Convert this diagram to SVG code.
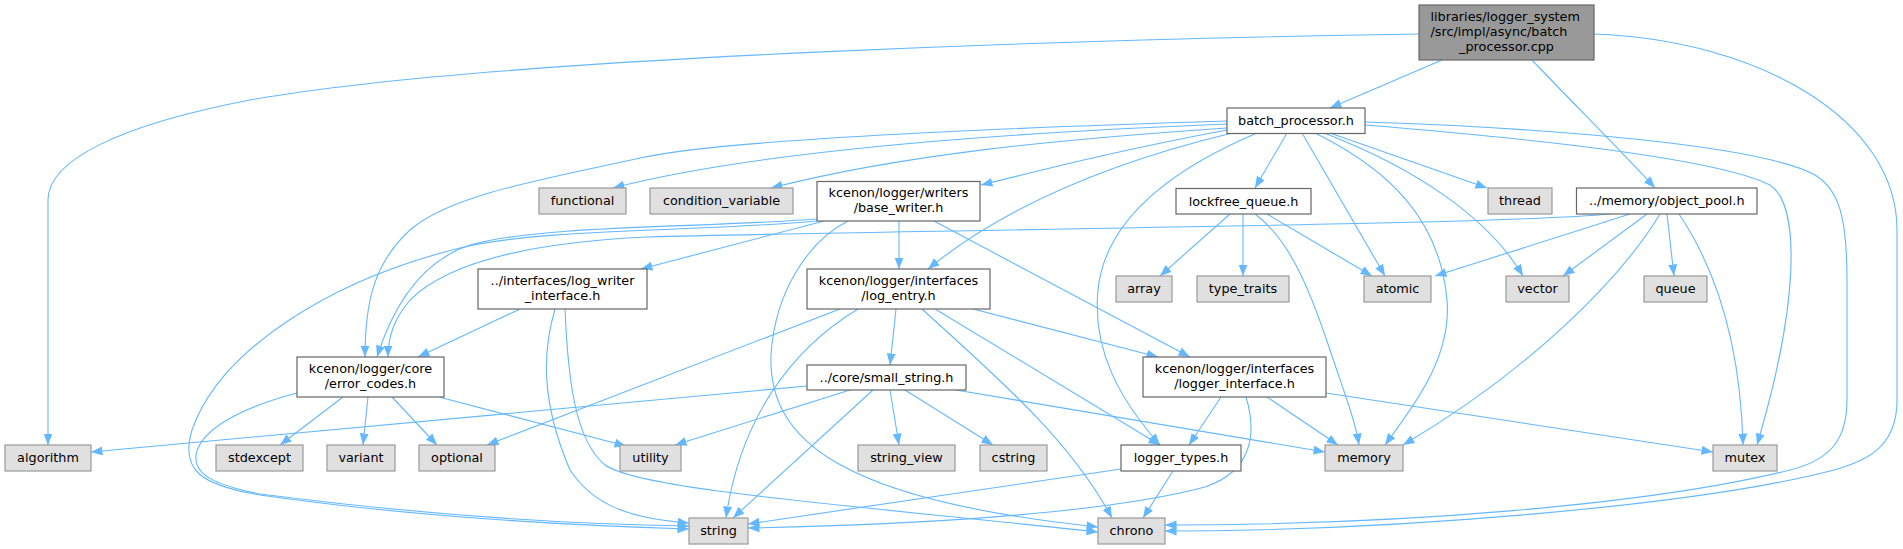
<svg xmlns="http://www.w3.org/2000/svg" width="1903" height="549" viewBox="0 0 1903 549">
<style>
.e{fill:none;stroke:#63b8ff;stroke-width:1.1;marker-end:url(#ah)}
.n rect{stroke-width:1.2}
.w rect{fill:#ffffff;stroke:#666666}
.g rect{fill:#e0e0e0;stroke:#999999}
.r rect{fill:#999999;stroke:#666666}
text{font-family:"DejaVu Sans",sans-serif;font-size:12.8px;fill:#000000;text-anchor:middle}
text.s{text-anchor:start}
</style>
<defs>
<marker id="ah" markerUnits="userSpaceOnUse" markerWidth="12" markerHeight="10" refX="11.5" refY="4.5" orient="auto">
<path d="M0,0 L11.5,4.5 L0,9 z" fill="#63b8ff"/>
</marker>
</defs>
<rect width="1903" height="549" fill="#ffffff"/>
<g id="edges">
<path class="e" d="M1442,60 L1330,108"/>
<path class="e" d="M1532,60 C1570,100 1625,155 1655,188"/>
<path class="e" d="M1419,34 C1150,38 500,55 250,100 C120,125 48,160 48,200 L48,445"/>
<path class="e" d="M1594,34 C1760,40 1897,120 1897,230 L1897,400 C1897,445 1870,460 1834,470 C1700,505 1400,531 1165,531"/>
<path class="e" d="M1365,122 C1550,128 1760,145 1815,175 C1840,190 1847,220 1847,280 L1847,400 C1847,440 1830,460 1790,470 C1650,505 1400,525 1165,525"/>
<path class="e" d="M1227,124 C1000,133 760,150 613,188"/>
<path class="e" d="M1227,128 C1050,140 900,155 771,188"/>
<path class="e" d="M1227,130 C1120,150 1050,168 981,185"/>
<path class="e" d="M1227,121 C1000,128 720,140 640,158 C540,180 450,195 410,230 C375,262 365,300 365,357"/>
<path class="e" d="M1232,133 C1100,165 1000,210 928,269"/>
<path class="e" d="M1287,133 L1255,188"/>
<path class="e" d="M1257,133 C1170,170 1105,220 1098,290 C1092,350 1120,400 1160,445"/>
<path class="e" d="M1302,133 L1385,276"/>
<path class="e" d="M1315,133 C1390,170 1440,220 1447,300 C1452,360 1410,410 1385,445"/>
<path class="e" d="M1324,133 C1420,170 1490,220 1523,276"/>
<path class="e" d="M1330,133 L1487,188"/>
<path class="e" d="M1365,125 C1550,140 1720,160 1770,185 C1800,205 1800,300 1757,445"/>
<path class="e" d="M1230,214 L1160,276"/>
<path class="e" d="M1243,214 L1243,276"/>
<path class="e" d="M1267,214 L1372,276"/>
<path class="e" d="M1255,214 C1290,240 1310,290 1330,350 C1345,395 1355,420 1359,445"/>
<path class="e" d="M1610,214 C1500,225 900,230 647,237 C540,242 450,260 410,300 C395,318 388,335 388,357"/>
<path class="e" d="M1630,214 L1435,276"/>
<path class="e" d="M1647,214 L1563,276"/>
<path class="e" d="M1660,214 C1620,280 1530,370 1403,445"/>
<path class="e" d="M1667,214 L1674,276"/>
<path class="e" d="M1679,214 C1710,260 1740,330 1743,445"/>
<path class="e" d="M817,219 C700,228 540,225 470,245 C425,260 395,300 377,357"/>
<path class="e" d="M817,221 C700,232 540,228 460,248 C330,280 220,350 192,430 C180,470 200,485 260,495 C400,515 550,525 689,529"/>
<path class="e" d="M824,221 L641,269"/>
<path class="e" d="M848,221 C810,240 775,290 771,355 C768,440 840,500 1098,527"/>
<path class="e" d="M899,221 L899,269"/>
<path class="e" d="M934,221 L1190,357"/>
<path class="e" d="M520,309 L418,357"/>
<path class="e" d="M555,309 C543,350 540,400 570,470 C590,500 620,518 689,523"/>
<path class="e" d="M565,309 C568,380 575,440 605,465 C640,490 850,505 1098,532"/>
<path class="e" d="M840,309 L487,445"/>
<path class="e" d="M858,309 C790,350 740,420 726,518"/>
<path class="e" d="M896,309 L890,365"/>
<path class="e" d="M922,309 C1000,380 1070,440 1112,518"/>
<path class="e" d="M935,309 L1160,445"/>
<path class="e" d="M973,309 L1158,357"/>
<path class="e" d="M807,386 L91,452"/>
<path class="e" d="M850,390 L675,445"/>
<path class="e" d="M873,390 L733,518"/>
<path class="e" d="M890,390 L899,445"/>
<path class="e" d="M905,390 L993,445"/>
<path class="e" d="M956,390 L1325,452"/>
<path class="e" d="M343,397 L280,445"/>
<path class="e" d="M368,397 L363,445"/>
<path class="e" d="M392,397 L437,445"/>
<path class="e" d="M439,397 L626,446"/>
<path class="e" d="M297,393 C240,408 200,430 196,455 C194,475 215,485 260,494 C400,512 550,524 689,526"/>
<path class="e" d="M1221,397 L1189,445"/>
<path class="e" d="M1267,397 L1338,445"/>
<path class="e" d="M1326,393 L1713,452"/>
<path class="e" d="M1246,397 C1256,430 1255,470 1205,487 C1100,515 900,525 748,528"/>
<path class="e" d="M1121,469 L748,524"/>
<path class="e" d="M1173,471 L1143,518"/>
</g>
<g id="node_root" class="n r"><rect x="1419" y="5" width="175" height="55"/><text class="s" x="1430.5" y="21">libraries/logger_system</text><text class="s" x="1430.5" y="36">/src/impl/async/batch</text><text x="1506.5" y="51">_processor.cpp</text></g>
<g id="node_batch_processor_h" class="n w"><rect x="1227" y="108" width="138" height="25.5"/><text x="1296" y="125">batch_processor.h</text></g>
<g id="node_functional" class="n g"><rect x="539" y="188" width="87" height="26"/><text x="582.5" y="205.3">functional</text></g>
<g id="node_condition_variable" class="n g"><rect x="650" y="188" width="143" height="26"/><text x="721.5" y="205.3">condition_variable</text></g>
<g id="node_base_writer_h" class="n w"><rect x="817" y="181.5" width="163" height="39.5"/><text x="898.5" y="197.3">kcenon/logger/writers</text><text x="898.5" y="212">/base_writer.h</text></g>
<g id="node_lockfree_queue_h" class="n w"><rect x="1176" y="188.5" width="135" height="25.5"/><text x="1243.5" y="205.5">lockfree_queue.h</text></g>
<g id="node_thread" class="n g"><rect x="1488" y="188" width="64" height="26"/><text x="1520" y="205.3">thread</text></g>
<g id="node_object_pool_h" class="n w"><rect x="1576.5" y="188" width="180.5" height="26"/><text x="1666.75" y="205.3">../memory/object_pool.h</text></g>
<g id="node_log_writer_interface_h" class="n w"><rect x="478" y="269" width="169" height="40"/><text x="562.5" y="285.3">../interfaces/log_writer</text><text x="562.5" y="300">_interface.h</text></g>
<g id="node_log_entry_h" class="n w"><rect x="807" y="269" width="183" height="40"/><text x="898.5" y="285.3">kcenon/logger/interfaces</text><text x="898.5" y="300">/log_entry.h</text></g>
<g id="node_array" class="n g"><rect x="1116" y="276" width="56" height="26"/><text x="1144" y="293.3">array</text></g>
<g id="node_type_traits" class="n g"><rect x="1197" y="276" width="92" height="26"/><text x="1243" y="293.3">type_traits</text></g>
<g id="node_atomic" class="n g"><rect x="1364" y="276" width="67" height="26"/><text x="1397.5" y="293.3">atomic</text></g>
<g id="node_vector" class="n g"><rect x="1506" y="276" width="63" height="26"/><text x="1537.5" y="293.3">vector</text></g>
<g id="node_queue" class="n g"><rect x="1644" y="276" width="63" height="26"/><text x="1675.5" y="293.3">queue</text></g>
<g id="node_error_codes_h" class="n w"><rect x="297" y="357" width="147" height="40"/><text x="370.5" y="373.3">kcenon/logger/core</text><text x="370.5" y="388">/error_codes.h</text></g>
<g id="node_small_string_h" class="n w"><rect x="807" y="365" width="159" height="25"/><text x="886.5" y="382">../core/small_string.h</text></g>
<g id="node_logger_interface_h" class="n w"><rect x="1143" y="357" width="183" height="40"/><text x="1234.5" y="373.3">kcenon/logger/interfaces</text><text x="1234.5" y="388">/logger_interface.h</text></g>
<g id="node_algorithm" class="n g"><rect x="5" y="445" width="86" height="26"/><text x="48" y="462.3">algorithm</text></g>
<g id="node_stdexcept" class="n g"><rect x="216" y="445" width="87" height="26"/><text x="259.5" y="462.3">stdexcept</text></g>
<g id="node_variant" class="n g"><rect x="327" y="445" width="68" height="26"/><text x="361" y="462.3">variant</text></g>
<g id="node_optional" class="n g"><rect x="419" y="445" width="76" height="26"/><text x="457" y="462.3">optional</text></g>
<g id="node_utility" class="n g"><rect x="620" y="445" width="61" height="26"/><text x="650.5" y="462.3">utility</text></g>
<g id="node_string_view" class="n g"><rect x="858" y="445" width="97" height="26"/><text x="906.5" y="462.3">string_view</text></g>
<g id="node_cstring" class="n g"><rect x="980" y="445" width="67" height="26"/><text x="1013.5" y="462.3">cstring</text></g>
<g id="node_logger_types_h" class="n w"><rect x="1121" y="445" width="120" height="26"/><text x="1181" y="462.3">logger_types.h</text></g>
<g id="node_memory" class="n g"><rect x="1325" y="445" width="78" height="26"/><text x="1364" y="462.3">memory</text></g>
<g id="node_mutex" class="n g"><rect x="1713" y="445" width="64" height="26"/><text x="1745" y="462.3">mutex</text></g>
<g id="node_string" class="n g"><rect x="689" y="518" width="59" height="26"/><text x="718.5" y="535.3">string</text></g>
<g id="node_chrono" class="n g"><rect x="1098" y="518" width="67" height="26"/><text x="1131.5" y="535.3">chrono</text></g>
</svg>
